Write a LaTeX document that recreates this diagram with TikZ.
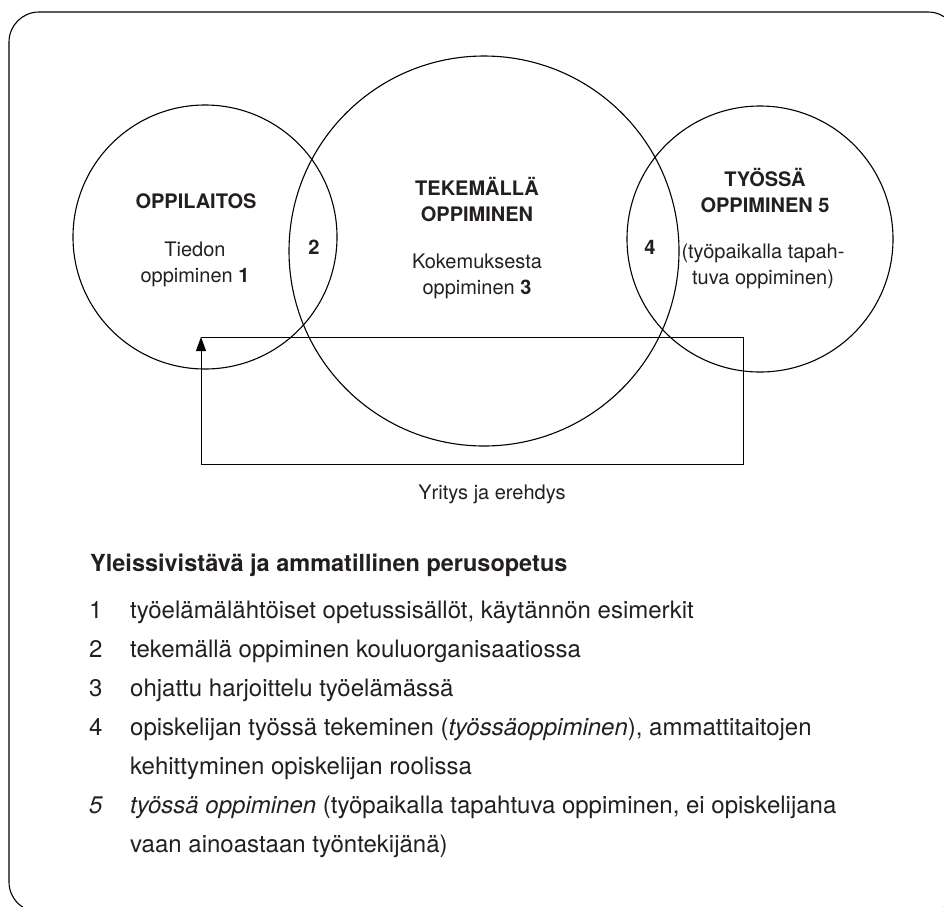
\documentclass[tikz,border=0pt]{standalone}
\usepackage{fontspec}
\setmainfont{TeX Gyre Heros}
\usetikzlibrary{arrows.meta}
\tikzset{>={Triangle[length=14pt,width=10pt]}}
\definecolor{ink}{RGB}{35,31,32}

\begin{document}
\begin{tikzpicture}[x=1pt,y=-1pt,
  ring/.style={draw, circle, inner sep=0pt, line width=1.1pt},
  lbl/.style={text=ink, font=\fontsize{20}{26}\selectfont, align=center},
  head/.style={text=ink, font=\fontsize{20}{26}\selectfont\bfseries, align=center},
  item/.style={text=ink, font=\fontsize{24}{30}\selectfont, anchor=base west, inner sep=0pt}]

\useasboundingbox (0,0) rectangle (944,906);
\clip (0,0) rectangle (944,906);
\draw[line width=1.1pt, rounded corners=30pt] (9,12) rectangle (958,912);

% circles
\node[ring, minimum size=264pt] (oppilaitos) at (205,237) {};
\node[ring, minimum size=390pt] (tekemalla) at (484,251) {};
\node[ring, minimum size=266pt] (tyossa) at (760,239) {};

\node[head] (oppilaitosT) at (196,201) {OPPILAITOS};
\node[lbl] (tieto) at (195,264) {Tiedon\\oppiminen \textbf{1}};
\node[head] (lens2) at (314,247) {2};
\node[head] (tekemallaT) at (477,199) {TEKEMÄLLÄ\\OPPIMINEN};
\node[lbl] (kokemus) at (477,276) {Kokemuksesta\\oppiminen \textbf{3}};
\node[head] (lens4) at (650,247) {4};
\node[head] (tyossaT) at (765,190) {TYÖSSÄ\\OPPIMINEN 5};
\node[lbl] (tyopaikka) at (763,266) {(työpaikalla tapah-\\tuva oppiminen)};

% trial and error loop
\coordinate (tl) at (201,337);
\coordinate (tr) at (743,337);
\coordinate (br) at (743,464);
\coordinate (bl) at (201,464);
\draw[->, line width=0.9pt] (tl) -- (tr) -- (br) -- (bl) -- (tl);
\node[lbl] (yritys) at (492,494) {Yritys ja erehdys};

% list
\node[item, font=\fontsize{23.5}{30}\selectfont\bfseries] (otsikko) at (90,571) {Yleissivistävä ja ammatillinen perusopetus};
\node[item] (n1) at (89,618) {1};
\node[item] (t1) at (130,618) {työelämälähtöiset opetussisällöt, käytännön esimerkit};
\node[item] (n2) at (89,657) {2};
\node[item] (t2) at (130,657) {tekemällä oppiminen kouluorganisaatiossa};
\node[item] (n3) at (89,696) {3};
\node[item] (t3) at (130,696) {ohjattu harjoittelu työelämässä};
\node[item] (n4) at (89,735) {4};
\node[item] (t4) at (130,735) {opiskelijan työssä tekeminen (\textit{työssäoppiminen}), ammattitaitojen};
\node[item] (t4b) at (130,774) {kehittyminen opiskelijan roolissa};
\node[item] (n5) at (89,813) {\textit{5}};
\node[item] (t5) at (130,813) {\textit{työssä oppiminen} (työpaikalla tapahtuva oppiminen, ei opiskelijana};
\node[item] (t5b) at (130,852) {vaan ainoastaan työntekijänä)};
\end{tikzpicture}
\end{document}
